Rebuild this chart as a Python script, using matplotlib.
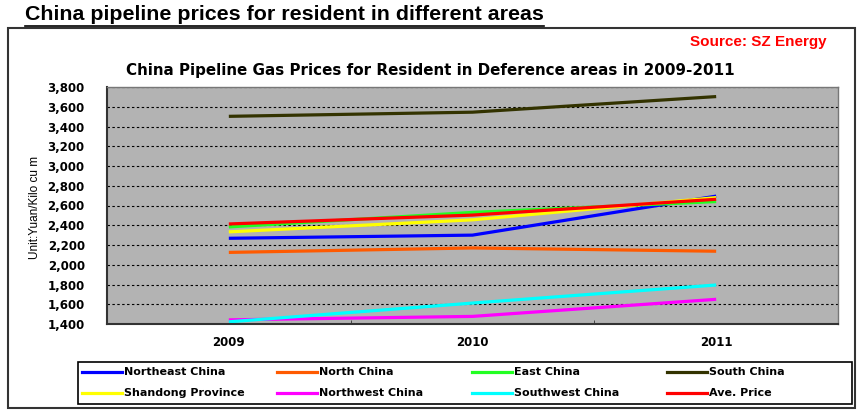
import matplotlib
matplotlib.use("Agg")
import matplotlib.pyplot as plt
from matplotlib.patches import Rectangle
from matplotlib.lines import Line2D
from matplotlib.ticker import FuncFormatter, MultipleLocator

years = ["2009", "2010", "2011"]
northeast = [2268, 2300, 2695]
north = [2125, 2170, 2137]
east = [2383, 2530, 2640]
south = [3503, 3545, 3703]
shandong = [2333, 2455, 2680]
northwest = [1442, 1477, 1650]
southwest = [1422, 1612, 1795]
ave_price = [2413, 2503, 2663]

labels = ["Northeast China", "North China", "East China", "South China",
          "Shandong Province", "Northwest China", "Southwest China", "Ave. Price"]
colors = ["#0000ff", "#ff5a00", "#22ff22", "#333300",
          "#ffff00", "#ff00ff", "#00ffff", "#ff0000"]
values = [northeast, north, east, south, shandong, northwest, southwest, ave_price]

W, H = 865, 420
def fx(px):
    return px / W
def fy(py):
    return 1 - py / H

arial = ["Liberation Sans", "DejaVu Sans"]
wide = ["DejaVu Sans"]

fig = plt.figure(figsize=(W / 100, H / 100), dpi=100)

# outer frame
fig.add_artist(Rectangle((fx(8), fy(408)), fx(855) - fx(8), fy(28) - fy(408),
                         fill=False, ec="#333333", lw=1.5, transform=fig.transFigure))

ax = fig.add_axes([fx(107), fy(324), fx(838) - fx(107), fy(87) - fy(324)])
ax.set_facecolor("#b3b3b3")

xs = range(len(years))
handles = []
for lab, vals, col in zip(labels, values, colors):
    h, = ax.plot(xs, vals, color=col, lw=2.3, label=lab, solid_capstyle="butt")
    handles.append(h)

ax.set_xlim(-0.5, 2.5)
ax.set_ylim(1400, 3800)
ax.yaxis.set_major_locator(MultipleLocator(200))
ax.yaxis.set_major_formatter(FuncFormatter(lambda v, p: f"{v:,.0f}"))
ax.set_xticks(list(xs), years)
ax.set_xticks([0.5, 1.5], minor=True)
ax.grid(axis="y", color="black", linestyle=(0, (2.2, 2.2)), linewidth=0.8)
ax.set_axisbelow(True)
ax.tick_params(axis="y", length=0, pad=16)
ax.tick_params(axis="x", which="major", length=0, pad=9)
ax.tick_params(axis="x", which="minor", direction="in", length=3, color="#333333")
for lbl in ax.get_xticklabels() + ax.get_yticklabels():
    lbl.set_family(wide)
    lbl.set_fontweight("bold")
    lbl.set_fontsize(8.5)
for side in ["left", "bottom"]:
    ax.spines[side].set_color("#333333")
    ax.spines[side].set_linewidth(1.5)
for side in ["top", "right"]:
    ax.spines[side].set_color("#777777")
    ax.spines[side].set_linewidth(1.0)

fig.text(fx(35), fy(207), "Unit:Yuan/Kilo cu m", rotation=90, ha="center", va="center",
         family=arial, fontsize=8.5)

title = fig.text(fx(25), fy(15), "China pipeline prices for resident in different areas",
                 ha="left", va="center", family=arial, fontweight="bold", fontsize=15.4)
fig.text(fx(827), fy(42), "Source: SZ Energy", ha="right", va="center", color="red",
         family=arial, fontweight="bold", fontsize=11)
fig.text(fx(430), fy(70), "China Pipeline Gas Prices for Resident in Deference areas in 2009-2011",
         ha="center", va="center", family=wide, fontweight="bold", fontsize=10.9)

# legend box, drawn as Excel lays it out: 4 equal columns, 2 rows
fig.add_artist(Rectangle((fx(78), fy(404)), fx(852) - fx(78), fy(362) - fy(404),
                         fill=False, ec="black", lw=1.2, transform=fig.transFigure))
for i, (lab, col) in enumerate(zip(labels, colors)):
    r, c = divmod(i, 4)
    x0 = 82 + 195 * c
    y0 = 372 + 20.5 * r
    fig.add_artist(Line2D([fx(x0), fx(x0 + 40)], [fy(y0)] * 2, color=col, lw=2.3,
                          transform=fig.transFigure))
    fig.text(fx(x0 + 42), fy(y0), lab, ha="left", va="center", family=wide,
             fontweight="bold", fontsize=8)

# underline for the main title
fig.canvas.draw()
bb = title.get_window_extent()
fig.add_artist(Line2D([bb.x0 / W, bb.x1 / W], [(bb.y0 - 1) / H] * 2, color="black",
                      lw=1.2, transform=fig.transFigure))

fig.savefig("out.png", dpi=100)
